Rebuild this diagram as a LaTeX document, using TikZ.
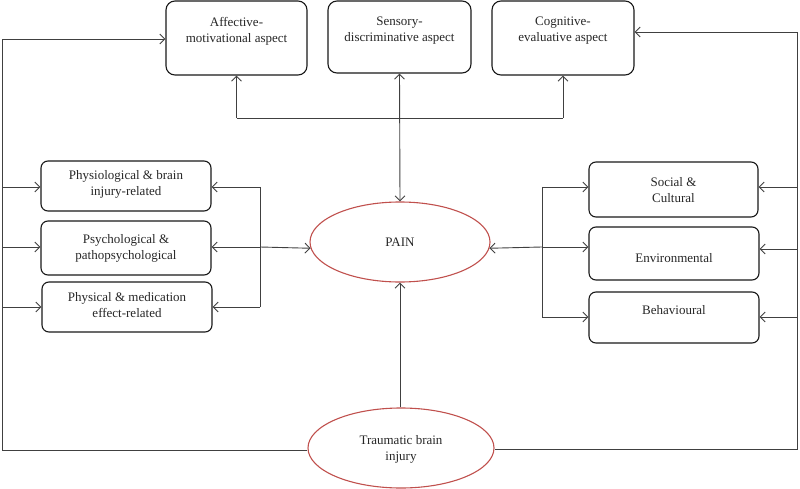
\documentclass[tikz,border=0pt]{standalone}
\usepackage{fontspec}
\setmainfont{Liberation Serif}
\usetikzlibrary{arrows.meta,shapes.geometric}
\definecolor{lin}{HTML}{404040}
\definecolor{ered}{HTML}{C0504D}
\begin{document}
\begin{tikzpicture}[x=1pt,y=-1pt,
  box/.style={draw=black!90, line width=1.1pt, rounded corners=9pt, inner sep=0pt},
  sbox/.style={draw=black!90, line width=1.1pt, rounded corners=7pt, inner sep=0pt},
  txt/.style={align=center, font=\fontsize{13}{16}\selectfont, inner sep=0pt, text=black!85},
  oval/.style={ellipse, draw=ered, line width=1.1pt, inner sep=0pt},
  conn/.style={draw=lin, line width=0.9pt},
  arr/.style={conn, -{Straight Barb[length=5pt,width=10pt]}},
  barr/.style={conn, {Straight Barb[length=5pt,width=10pt]}-{Straight Barb[length=5pt,width=10pt]}}]
\useasboundingbox (0,0) rectangle (800,489);
% top boxes
\node[box, minimum width=141pt, minimum height=74pt] (aff) at (236.5,38) {};
\node[txt] (afft) at (236.5,31) {Affective-\\motivational aspect};
\node[box, minimum width=143pt, minimum height=72pt] (sens) at (399.5,37) {};
\node[txt] (senst) at (399.5,31) {Sensory-\\discriminative aspect};
\node[box, minimum width=142pt, minimum height=74pt] (cog) at (563,38) {};
\node[txt] (cogt) at (563,31) {Cognitive-\\evaluative aspect};
% left boxes
\node[sbox, minimum width=170pt, minimum height=50pt] (phy) at (126,186) {};
\node[txt] (phyt) at (126,184) {Physiological \& brain\\injury-related};
\node[sbox, minimum width=170pt, minimum height=54pt] (psy) at (126,248) {};
\node[txt] (psyt) at (126,248) {Psychological \&\\pathopsychological};
\node[sbox, minimum width=170pt, minimum height=50pt] (med) at (127,307) {};
\node[txt] (medt) at (127,305) {Physical \& medication\\effect-related};
% right boxes
\node[sbox, minimum width=169pt, minimum height=55pt] (soc) at (673.5,189.5) {};
\node[txt] (soct) at (673.5,190) {Social \&\\Cultural};
\node[sbox, minimum width=170pt, minimum height=53pt] (env) at (674,253.5) {};
\node[txt] (envt) at (674,258) {Environmental};
\node[sbox, minimum width=170pt, minimum height=51pt] (beh) at (674,317.5) {};
\node[txt] (beht) at (674,310) {Behavioural};
% ellipses
\node[oval, minimum width=180pt, minimum height=80pt] (pain) at (400,242) {};
\node[txt] (paint) at (400,242) {PAIN};
\node[oval, minimum width=186pt, minimum height=80pt] (tbi) at (401,448) {};
\node[txt] (tbit) at (401,449.5) {Traumatic brain\\injury};
% coordinates
\coordinate (LB) at (2,450);
\coordinate (RB) at (797,449);
\coordinate (H) at (400,118);
\coordinate (LJt) at (260,187);
\coordinate (LJm) at (260,247);
\coordinate (LJb) at (260,307);
\coordinate (RJt) at (542,187);
\coordinate (RJm) at (542,247);
\coordinate (RJb) at (542,317);
\coordinate (REm) at (797,249);
% outer loops
\draw[arr] (tbi.west|-LB) -- (LB) |- ([yshift=-1pt]aff.west);
\draw[arr] (tbi.east|-RB) -- (RB) |- ([yshift=6pt]cog.east);
\draw[arr] (LB|-LJt) -- (phy.west|-LJt);
\draw[arr] (LB|-LJm) -- (psy.west|-LJm);
\draw[arr] (LB|-LJb) -- (med.west|-LJb);
\draw[arr] (RB|-RJt) -- (soc.east|-RJt);
\draw[arr] (REm) -- (env.east|-REm);
\draw[arr] (RB|-RJb) -- (beh.east|-RJb);
% left junction
\draw[conn] (LJt) -- (LJb);
\draw[arr] (LJt) -- (phy.east|-LJt);
\draw[arr] (LJm) -- (psy.east|-LJm);
\draw[arr] (LJb) -- (med.east|-LJb);
\draw[arr] (LJm) -- (pain.184);
% right junction
\draw[conn] (RJt) -- (RJb);
\draw[arr] (RJt) -- (soc.west|-RJt);
\draw[arr] (RJm) -- (env.west|-RJm);
\draw[arr] (RJb) -- (beh.west|-RJb);
\draw[arr] (RJm) -- (pain.-4);
% top
\draw[barr] (pain.north) -- (sens.south);
\draw[conn] (aff.south|-H) -- (cog.south|-H);
\draw[arr] (aff.south|-H) -- (aff.south);
\draw[arr] (cog.south|-H) -- (cog.south);
% TBI to pain
\draw[arr] (tbi.north-|pain.south) -- (pain.south);
\end{tikzpicture}
\end{document}
